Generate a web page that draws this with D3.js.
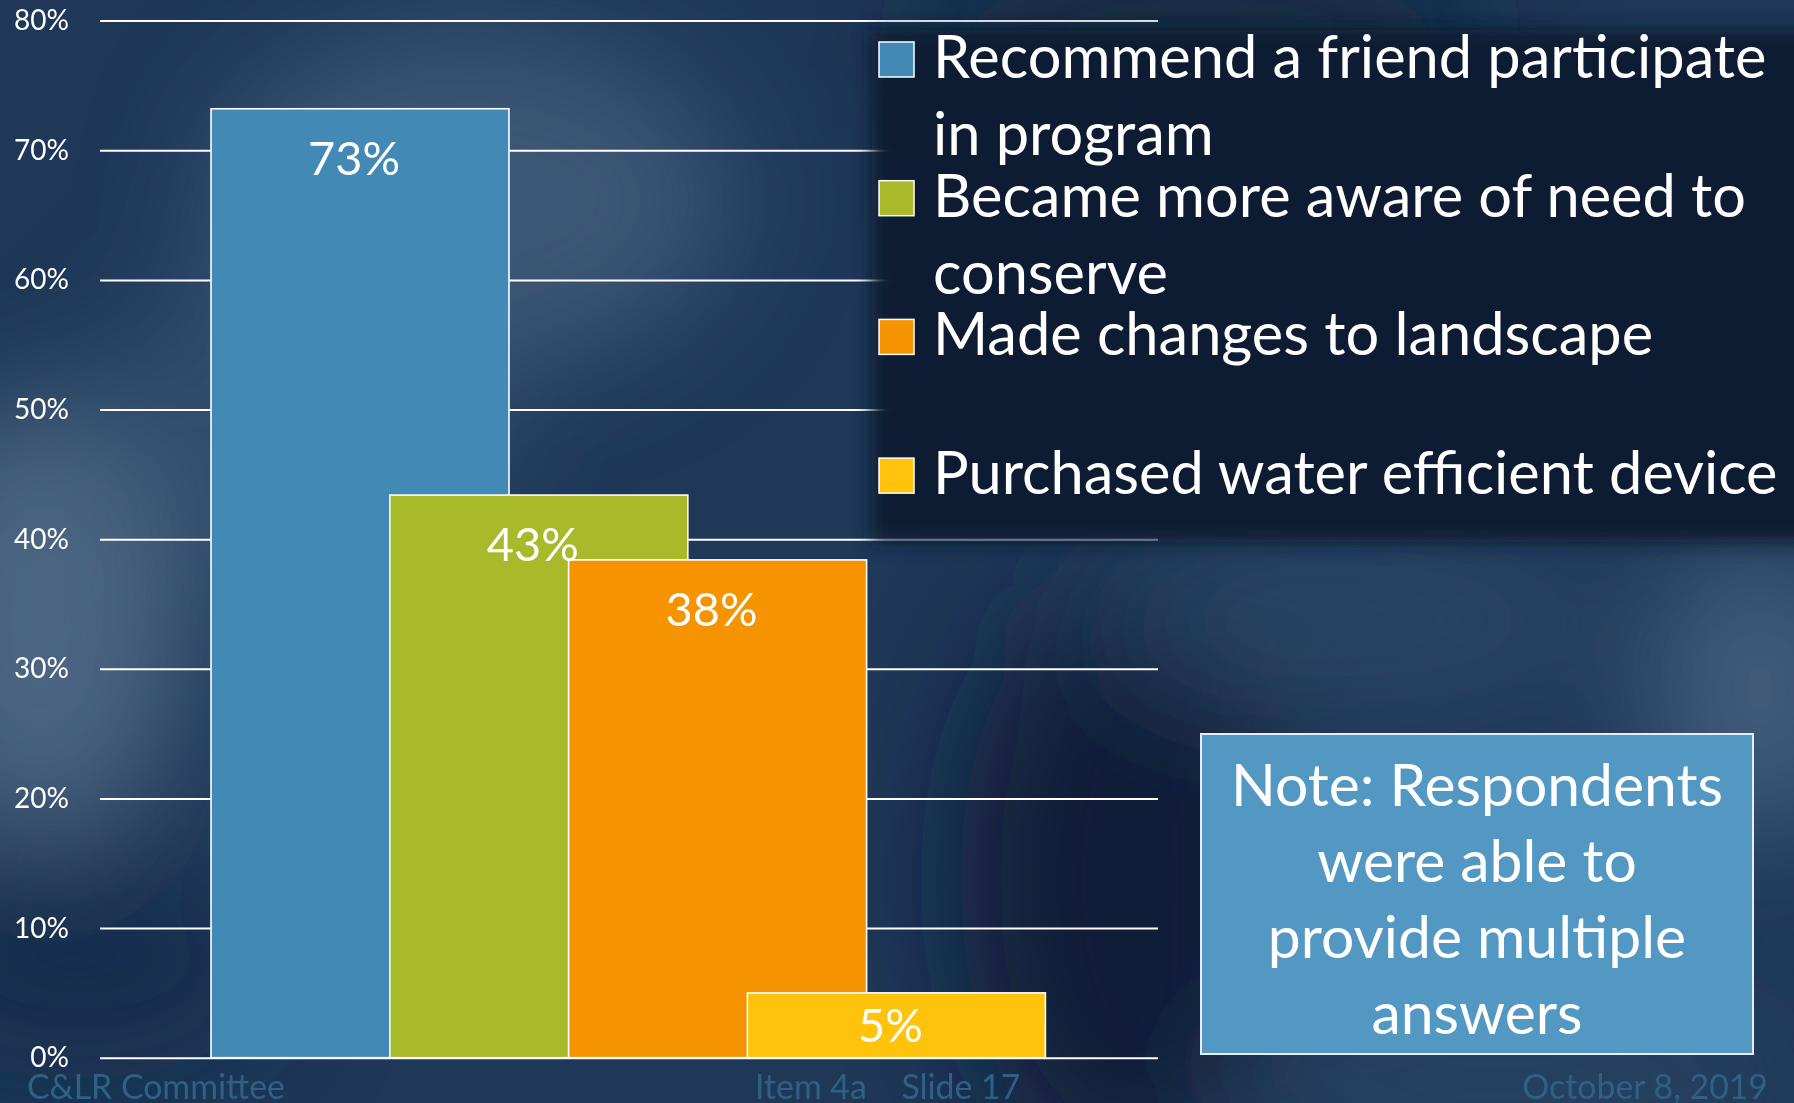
<!DOCTYPE html>
<html>
<head>
<meta charset="utf-8">
<script src="https://cdn.jsdelivr.net/npm/d3@7"></script>
<style>
    body { margin: 0; background: #1b3555; }
    svg { display: block; }
</style>
</head>
<body>
<div id="chart"></div>
<script>
// ---- data ----
const categories = [
    "Recommend a friend participate in program",
    "Became more aware of need to conserve",
    "Made changes to landscape",
    "Purchased water efficient device"
];
const values = [73.2, 43.4, 38.4, 5.0];
const colors = ["#428ab5", "#a8b929", "#f59300", "#ffc30b"];
const legendLines = [
    ["Recommend a friend participate", "in program"],
    ["Became more aware of need to", "conserve"],
    ["Made changes to landscape"],
    ["Purchased water efficient device"]
];
const yTicks = [0, 10, 20, 30, 40, 50, 60, 70, 80];
const noteLines = ["Note: Respondents", "were able to", "provide multiple", "answers"];
const footerLeft = "C&LR Committee";
const footerMid = "Item 4a    Slide 17";
const footerRight = "October 8, 2019";

// ---- layout ----
const W = 1794, H = 1103;
const FONT = "Lato, 'Open Sans', sans-serif";
const plot = { left: 100, right: 1158, top: 20.6, bottom: 1057.7 };
const barW = 298, overlap = 0.4;

// size a font so a string fills a given width
const ctx = document.createElement("canvas").getContext("2d");
const fit = (str, w) => {
    ctx.font = `100px ${FONT}`;
    return 100 * w / ctx.measureText(str).width;
};

const svg = d3.select("#chart").append("svg")
    .attr("width", W).attr("height", H)
    .style("font-family", FONT);

const defs = svg.append("defs");
defs.append("filter").attr("id", "blur-big")
    .attr("x", "-50%").attr("y", "-50%").attr("width", "200%").attr("height", "200%")
    .append("feGaussianBlur").attr("stdDeviation", 60);
defs.append("filter").attr("id", "blur-panel")
    .attr("x", "-10%").attr("y", "-10%").attr("width", "120%").attr("height", "120%")
    .append("feGaussianBlur").attr("stdDeviation", 9);

// ---- background (cloudy navy) ----
svg.append("rect").attr("width", W).attr("height", H).attr("fill", "#1f3858");
const clouds = [
    { cx: 470, cy: 200, rx: 260, ry: 170, c: "#4a6482", o: 0.7 },
    { cx: 40, cy: 620, rx: 150, ry: 220, c: "#566f8c", o: 0.8 },
    { cx: 300, cy: 420, rx: 200, ry: 160, c: "#3d5878", o: 0.6 },
    { cx: 1130, cy: 880, rx: 170, ry: 300, c: "#081a32", o: 0.85 },
    { cx: 80, cy: 960, rx: 200, ry: 120, c: "#12294a", o: 0.7 },
    { cx: 1760, cy: 690, rx: 110, ry: 150, c: "#516c8a", o: 0.7 },
    { cx: 1350, cy: 620, rx: 260, ry: 90, c: "#2e4a6a", o: 0.7 },
    { cx: 1500, cy: 1080, rx: 300, ry: 60, c: "#2c4868", o: 0.8 },
    { cx: 1200, cy: 30, rx: 300, ry: 60, c: "#0d2139", o: 0.9 }
];
svg.append("g").attr("filter", "url(#blur-big)")
    .selectAll("ellipse").data(clouds).join("ellipse")
    .attr("cx", d => d.cx).attr("cy", d => d.cy)
    .attr("rx", d => d.rx).attr("ry", d => d.ry)
    .attr("fill", d => d.c).attr("opacity", d => d.o);

// ---- scales ----
const y = d3.scaleLinear().domain([0, 80]).range([plot.bottom, plot.top]);
const x = d3.scaleBand().domain(categories)
    .range([211, 211 + categories.length * barW * (1 - overlap)]);
const color = d3.scaleOrdinal(categories, colors);

// ---- y axis + gridlines ----
const tickSize = fit("80%", 55);
const yAxis = svg.append("g")
    .attr("transform", `translate(${plot.left},0)`)
    .call(d3.axisLeft(y).tickValues(yTicks)
        .tickSize(-(plot.right - plot.left))
        .tickPadding(31)
        .tickFormat(d => d + "%"));
yAxis.select(".domain").remove();
yAxis.selectAll(".tick line").attr("stroke", "#ffffff").attr("stroke-width", 2);
yAxis.selectAll(".tick text")
    .attr("fill", "#ffffff")
    .style("font-size", tickSize + "px")
    .style("font-family", FONT);

// ---- legend panel ----
svg.append("rect")
    .attr("x", 872).attr("y", 30)
    .attr("width", 960).attr("height", 512)
    .attr("fill", "#0a1a30")
    .attr("filter", "url(#blur-panel)");

// ---- bars ----
const data = categories.map((c, i) => ({ cat: c, value: values[i] }));
svg.append("g").selectAll("rect").data(data).join("rect")
    .attr("x", d => x(d.cat))
    .attr("y", d => y(d.value))
    .attr("width", barW)
    .attr("height", d => y(0) - y(d.value))
    .attr("fill", d => color(d.cat))
    .attr("stroke", "#ffffff")
    .attr("stroke-width", 1.6);

const labelSize = fit("73%", 92);
svg.append("g").selectAll("text").data(data).join("text")
    .attr("x", d => x(d.cat) + barW / 2 - 6)
    .attr("y", d => Math.min(y(d.value) + 66, y(0) - 16))
    .attr("text-anchor", "middle")
    .attr("fill", "#ffffff")
    .style("font-size", labelSize + "px")
    .text(d => d3.format(".0f")(d.value) + "%");

// ---- legend ----
const legSize = (fit("Purchased water efficient device", 845) + fit("Recommend a friend participate", 836)) / 2;
const legTop = 78, legStep = 138.7, lineStep = 77;
const leg = svg.append("g").selectAll("g").data(categories).join("g")
    .attr("transform", (d, i) => `translate(878,${legTop + i * legStep})`);
leg.append("rect")
    .attr("x", 1).attr("y", -36)
    .attr("width", 35).attr("height", 35)
    .attr("fill", d => color(d))
    .attr("stroke", "#ffffff").attr("stroke-width", 1.5);
leg.append("text")
    .attr("fill", "#ffffff")
    .style("font-size", legSize + "px")
    .selectAll("tspan").data((d, i) => legendLines[i]).join("tspan")
    .attr("x", 55)
    .attr("y", (d, j) => j * lineStep)
    .text(d => d);

// ---- note box ----
const noteSize = fit("Note: Respondents", 492);
svg.append("rect")
    .attr("x", 1201).attr("y", 734)
    .attr("width", 552).attr("height", 320)
    .attr("fill", "#5298c2")
    .attr("stroke", "#e6eef4").attr("stroke-width", 2);
svg.append("text")
    .attr("text-anchor", "middle")
    .attr("fill", "#ffffff")
    .style("font-size", noteSize + "px")
    .selectAll("tspan").data(noteLines).join("tspan")
    .attr("x", 1477)
    .attr("y", (d, i) => 806 + i * 76)
    .text(d => d);

// ---- footer ----
const footSize = fit(footerLeft, 258);
const foot = svg.append("g")
    .attr("fill", "#2f6185")
    .style("font-size", footSize + "px");
foot.append("text").attr("x", 27).attr("y", 1099).text(footerLeft);
foot.append("text").attr("x", 755).attr("y", 1099)
    .attr("xml:space", "preserve").style("white-space", "pre")
    .text(footerMid);
foot.append("text").attr("x", 1768).attr("y", 1099).attr("text-anchor", "end").text(footerRight);
</script>
</body>
</html>
